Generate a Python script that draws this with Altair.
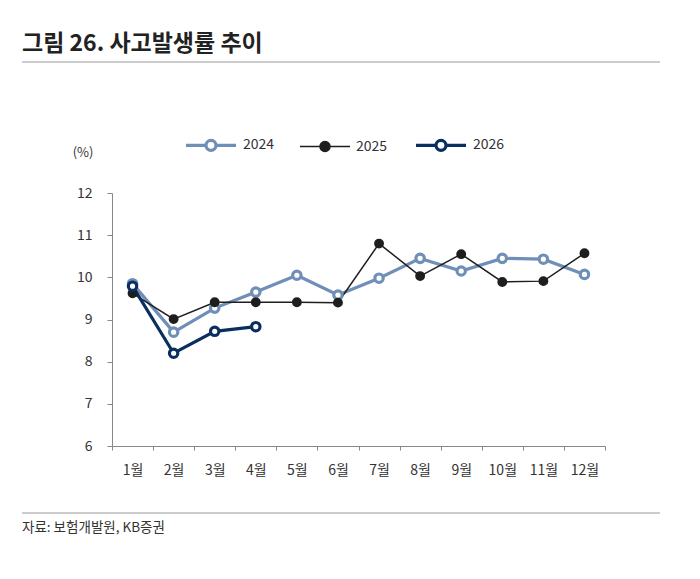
import pandas as pd
import altair as alt

# Data
months = ["1월", "2월", "3월", "4월", "5월", "6월", "7월", "8월", "9월", "10월", "11월", "12월"]
rate_2024 = [9.85, 8.70, 9.27, 9.65, 10.05, 9.58, 9.98, 10.45, 10.15, 10.45, 10.43, 10.07]
rate_2025 = [9.62, 9.01, 9.41, 9.41, 9.41, 9.40, 10.80, 10.03, 10.55, 9.89, 9.91, 10.57]
rate_2026 = [9.79, 8.20, 8.72, 8.83]
years = ["2024", "2025", "2026"]

title_text = "그림 26. 사고발생률 추이"
source_text = "자료: 보험개발원, KB증권"
unit_text = "(%)"

FONT = "Noto Sans CJK KR"
W, H = 493, 253

rows = []
for year, vals in zip(years, [rate_2024, rate_2025, rate_2026]):
    for m, v in zip(months, vals):
        rows.append({"month": m, "value": v, "year": year})
df = pd.DataFrame(rows)

# Series styles
line_colors = alt.Scale(domain=years, range=["#6f8fb8", "#1e1e1e", "#0a2f5e"])
fill_colors = alt.Scale(domain=years, range=["#ffffff", "#1e1e1e", "#ffffff"])
widths = alt.Scale(type="ordinal", domain=years, range=[3.2, 1.5, 3.2])

# line with a circle in the middle, wider than the symbol box so entries stay short
legend_path = "M-2.5,0H-0.5M0.5,0A0.5,0.5,0,1,1,-0.5,0A0.5,0.5,0,1,1,0.5,0M0.5,0H2.5"
legend = alt.Legend(
    title=None,
    orient="none",
    legendX=87,
    legendY=-60,
    direction="horizontal",
    gridAlign="all",
    symbolType=legend_path,
    symbolSize=400,
    labelFont=FONT,
    labelFontSize=14,
    labelColor="#333333",
    labelOffset=20,
    columnPadding=19,
)

x_enc = alt.X(
    "month:N",
    sort=months,
    scale=alt.Scale(paddingInner=0, paddingOuter=0),
    axis=alt.Axis(
        title=None,
        labelAngle=0,
        labelFont=FONT,
        labelFontSize=14,
        labelColor="#333333",
        labelPadding=13,
        tickBand="extent",
        tickSize=4,
        tickColor="#888888",
        domainColor="#888888",
    ),
)
y_enc = alt.Y(
    "value:Q",
    scale=alt.Scale(domain=[6, 12], nice=False, zero=False),
    axis=alt.Axis(
        title=None,
        values=[6, 7, 8, 9, 10, 11, 12],
        grid=False,
        labelFont=FONT,
        labelFontSize=14,
        labelColor="#333333",
        labelPadding=15,
        tickSize=5,
        tickColor="#888888",
        domainColor="#888888",
    ),
)

base = alt.Chart(df)

lines = base.mark_line().encode(
    x=x_enc,
    y=y_enc,
    color=alt.Color("year:N", scale=line_colors, legend=legend),
    strokeWidth=alt.StrokeWidth("year:N", scale=widths, legend=legend),
    detail="year:N",
)

points = base.mark_point(size=70, opacity=1).encode(
    x=x_enc,
    y=y_enc,
    color=alt.Color("year:N", scale=line_colors, legend=legend),
    fill=alt.Fill("year:N", scale=fill_colors, legend=legend),
    strokeWidth=alt.StrokeWidth("year:N", scale=widths, legend=legend),
)

one = pd.DataFrame({"t": [0]})

title = alt.Chart(pd.DataFrame({"t": [title_text]})).mark_text(
    font=FONT, fontSize=23, fontWeight="bold", color="#222222",
    align="left", baseline="middle",
).encode(text="t:N", x=alt.value(-90), y=alt.value(-149))

top_rule = alt.Chart(one).mark_rule(color="#999999", strokeWidth=1.2).encode(
    x=alt.value(-90), x2=alt.value(548), y=alt.value(-131)
)
bottom_rule = alt.Chart(one).mark_rule(color="#999999", strokeWidth=1.2).encode(
    x=alt.value(-90), x2=alt.value(548), y=alt.value(320)
)

source = alt.Chart(pd.DataFrame({"t": [source_text]})).mark_text(
    font=FONT, fontSize=13.5, color="#333333", align="left", baseline="middle",
).encode(text="t:N", x=alt.value(-90), y=alt.value(335))

unit = alt.Chart(pd.DataFrame({"t": [unit_text]})).mark_text(
    font=FONT, fontSize=13, color="#333333", align="center", baseline="middle",
).encode(text="t:N", x=alt.value(-29), y=alt.value(-40))

chart = (
    alt.layer(lines, points, title, top_rule, bottom_rule, source, unit)
    .properties(
        width=W,
        height=H,
        autosize=alt.AutoSizeParams(type="none"),
        padding={"left": 104, "top": 185, "right": 80, "bottom": 124},
    )
    .configure(background="#ffffff")
    .configure_view(stroke=None)
)

chart.save("out.html", embed_options={"renderer": "svg", "actions": False})
